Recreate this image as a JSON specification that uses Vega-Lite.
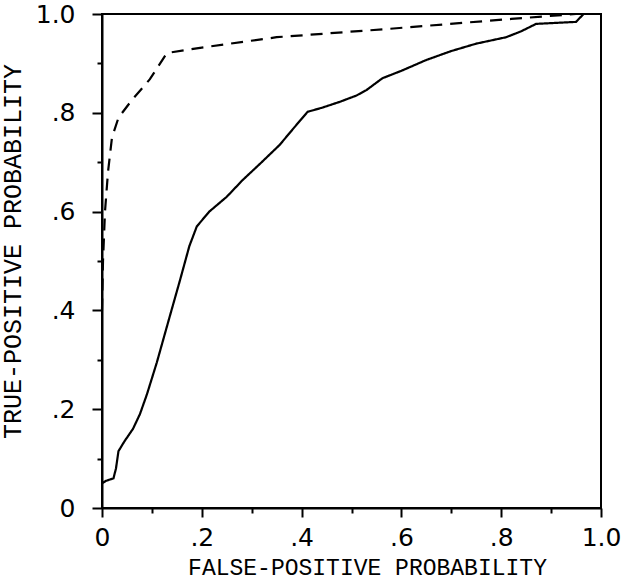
{
  "$schema": "https://vega.github.io/schema/vega-lite/v6.json",
  "autosize": "none",
  "width": 499,
  "height": 494,
  "padding": {"left": 102, "top": 14, "right": 35, "bottom": 79},
  "background": "white",
  "config": {
    "view": {"stroke": "black", "strokeWidth": 2},
    "axis": {
      "domainColor": "black",
      "domainWidth": 2,
      "tickColor": "black",
      "tickWidth": 2,
      "grid": false,
      "labelFont": "DejaVu Sans",
      "labelFontSize": 25,
      "labelColor": "black",
      "titleFont": "Liberation Mono",
      "titleFontWeight": "normal",
      "titleColor": "black"
    }
  },
  "data": {
    "values": [
      {"curve": "solid", "o": 1, "fp": 0.0, "tp": 0.05},
      {"curve": "solid", "o": 2, "fp": 0.008, "tp": 0.055},
      {"curve": "solid", "o": 3, "fp": 0.023, "tp": 0.06},
      {"curve": "solid", "o": 4, "fp": 0.028, "tp": 0.08},
      {"curve": "solid", "o": 5, "fp": 0.033, "tp": 0.115},
      {"curve": "solid", "o": 6, "fp": 0.045, "tp": 0.135},
      {"curve": "solid", "o": 7, "fp": 0.062, "tp": 0.16},
      {"curve": "solid", "o": 8, "fp": 0.076, "tp": 0.19},
      {"curve": "solid", "o": 9, "fp": 0.09, "tp": 0.23},
      {"curve": "solid", "o": 10, "fp": 0.11, "tp": 0.295},
      {"curve": "solid", "o": 11, "fp": 0.135, "tp": 0.385},
      {"curve": "solid", "o": 12, "fp": 0.156, "tp": 0.46},
      {"curve": "solid", "o": 13, "fp": 0.175, "tp": 0.53},
      {"curve": "solid", "o": 14, "fp": 0.19, "tp": 0.57},
      {"curve": "solid", "o": 15, "fp": 0.215, "tp": 0.6},
      {"curve": "solid", "o": 16, "fp": 0.25, "tp": 0.63},
      {"curve": "solid", "o": 17, "fp": 0.282, "tp": 0.664},
      {"curve": "solid", "o": 18, "fp": 0.32, "tp": 0.7},
      {"curve": "solid", "o": 19, "fp": 0.356, "tp": 0.735},
      {"curve": "solid", "o": 20, "fp": 0.385, "tp": 0.77},
      {"curve": "solid", "o": 21, "fp": 0.412, "tp": 0.802},
      {"curve": "solid", "o": 22, "fp": 0.44, "tp": 0.81},
      {"curve": "solid", "o": 23, "fp": 0.476, "tp": 0.822},
      {"curve": "solid", "o": 24, "fp": 0.51, "tp": 0.835},
      {"curve": "solid", "o": 25, "fp": 0.53, "tp": 0.846},
      {"curve": "solid", "o": 26, "fp": 0.562, "tp": 0.87},
      {"curve": "solid", "o": 27, "fp": 0.6, "tp": 0.885},
      {"curve": "solid", "o": 28, "fp": 0.65, "tp": 0.907},
      {"curve": "solid", "o": 29, "fp": 0.7, "tp": 0.925},
      {"curve": "solid", "o": 30, "fp": 0.75, "tp": 0.94},
      {"curve": "solid", "o": 31, "fp": 0.81, "tp": 0.953},
      {"curve": "solid", "o": 32, "fp": 0.84, "tp": 0.965},
      {"curve": "solid", "o": 33, "fp": 0.87, "tp": 0.98},
      {"curve": "solid", "o": 34, "fp": 0.91, "tp": 0.982},
      {"curve": "solid", "o": 35, "fp": 0.95, "tp": 0.984},
      {"curve": "solid", "o": 36, "fp": 0.965, "tp": 1.0},
      {"curve": "dashed", "o": 1, "fp": 0.0, "tp": 0.4},
      {"curve": "dashed", "o": 2, "fp": 0.002, "tp": 0.5},
      {"curve": "dashed", "o": 3, "fp": 0.006, "tp": 0.6},
      {"curve": "dashed", "o": 4, "fp": 0.012, "tp": 0.68},
      {"curve": "dashed", "o": 5, "fp": 0.02, "tp": 0.75},
      {"curve": "dashed", "o": 6, "fp": 0.033, "tp": 0.79},
      {"curve": "dashed", "o": 7, "fp": 0.06, "tp": 0.826},
      {"curve": "dashed", "o": 8, "fp": 0.096, "tp": 0.868},
      {"curve": "dashed", "o": 9, "fp": 0.13, "tp": 0.921},
      {"curve": "dashed", "o": 10, "fp": 0.2, "tp": 0.932},
      {"curve": "dashed", "o": 11, "fp": 0.35, "tp": 0.953},
      {"curve": "dashed", "o": 12, "fp": 0.576, "tp": 0.97},
      {"curve": "dashed", "o": 13, "fp": 0.82, "tp": 0.99},
      {"curve": "dashed", "o": 14, "fp": 0.95, "tp": 1.0}
    ]
  },
  "mark": {"type": "line", "color": "black", "strokeWidth": 2.2},
  "encoding": {
    "x": {
      "field": "fp",
      "type": "quantitative",
      "scale": {"domain": [0, 1], "nice": false, "zero": false},
      "axis": {
        "values": [0, 0.1, 0.2, 0.3, 0.4, 0.5, 0.6, 0.7, 0.8, 0.9, 1.0],
        "labelExpr": "round(datum.value*10)%2==1 ? '' : datum.value==0 ? '0' : datum.value==1 ? '1.0' : replace(format(datum.value, '.1f'), '0.', '.')",
        "tickSize": {"condition": {"test": "round(datum.value*10)%2==1", "value": 5}, "value": 9},
        "labelPadding": 8,
        "labelFlush": false,
        "labelOverlap": false,
        "title": "FALSE-POSITIVE PROBABILITY",
        "titleFontSize": 23,
        "titlePadding": 6,
        "titleX": 265
      }
    },
    "y": {
      "field": "tp",
      "type": "quantitative",
      "scale": {"domain": [0, 1], "nice": false, "zero": false},
      "axis": {
        "values": [0, 0.1, 0.2, 0.3, 0.4, 0.5, 0.6, 0.7, 0.8, 0.9, 1.0],
        "labelExpr": "round(datum.value*10)%2==1 ? '' : datum.value==0 ? '0' : datum.value==1 ? '1.0' : replace(format(datum.value, '.1f'), '0.', '.')",
        "tickSize": {"condition": {"test": "round(datum.value*10)%2==1", "value": 5}, "value": 10},
        "labelPadding": 17,
        "labelFlush": false,
        "labelOverlap": false,
        "title": "TRUE-POSITIVE PROBABILITY",
        "titleFontSize": 25,
        "titlePadding": 10,
        "titleY": 237
      }
    },
    "order": {"field": "o", "type": "quantitative"},
    "detail": {"field": "curve"},
    "strokeDash": {
      "field": "curve",
      "type": "nominal",
      "scale": {"domain": ["solid", "dashed"], "range": [[1, 0], [12, 8]]},
      "legend": null
    }
  }
}
